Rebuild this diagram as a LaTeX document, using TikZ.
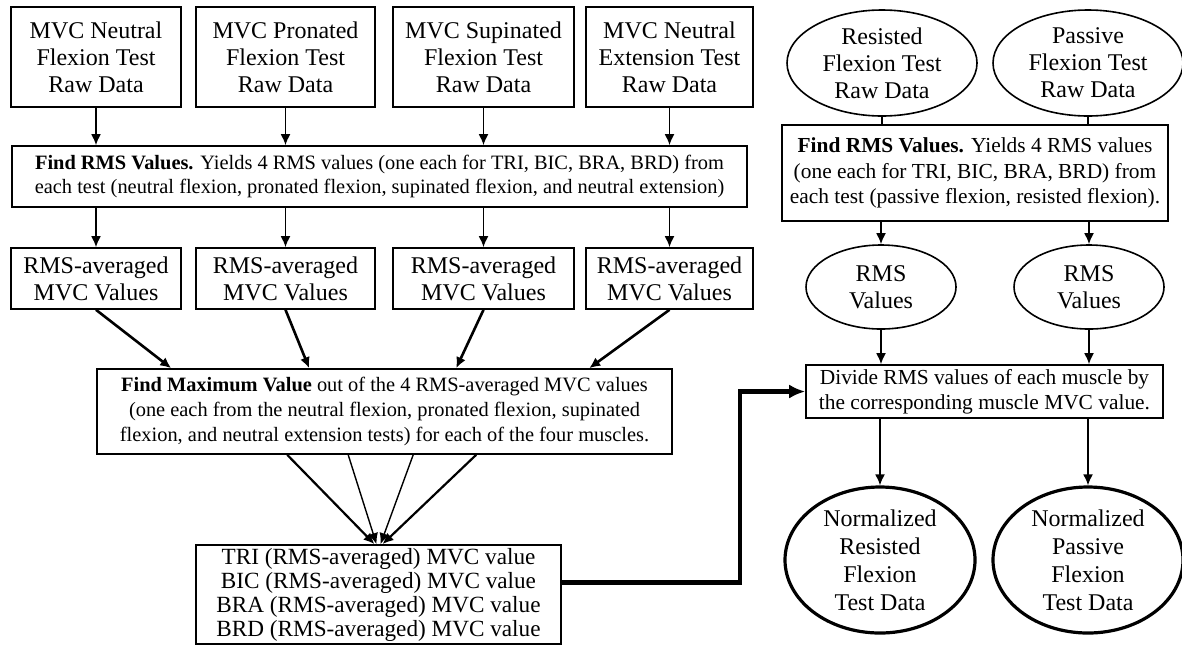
\documentclass[tikz,border=0pt]{standalone}
\usepackage{fontspec}
\setmainfont{Liberation Serif}
\usetikzlibrary{arrows.meta,shapes.geometric}
\def\bigtxt{\fontsize{12}{13.5}\selectfont}
\def\smalltxt{\fontsize{10.2}{12.4}\selectfont}
\def\midtxt{\fontsize{10.7}{12.6}\selectfont}

\begin{document}
\begin{tikzpicture}[x=0.5pt,y=-0.5pt,
					>={Latex[length=5.5pt,width=5pt]},
					rawbox/.style={draw,line width=0.8pt,align=center,font=\bigtxt,minimum height=50pt,inner sep=0pt},
					avgbox/.style={rawbox,minimum height=30.5pt},
					stepbox/.style={draw,line width=0.8pt,align=center,font=\smalltxt,inner sep=1pt},
					oval/.style={draw,ellipse,line width=0.8pt,align=center,font=\bigtxt,inner sep=0pt},
					flow/.style={->,line width=0.9pt}]
				\useasboundingbox (0,0) rectangle (1182,644);
				\node[rawbox,minimum width=85pt] (rawneu) at (96,57) {MVC Neutral\\Flexion Test\\Raw Data};
				\node[rawbox,minimum width=89.5pt] (rawpro) at (285.5,57) {MVC Pronated\\Flexion Test\\Raw Data};
				\node[rawbox,minimum width=90.5pt] (rawsup) at (483.5,57) {MVC Supinated\\Flexion Test\\Raw Data};
				\node[rawbox,minimum width=83.5pt] (rawext) at (669.5,57) {MVC Neutral\\Extension Test\\Raw Data};
				\node[stepbox,minimum width=367.5pt,minimum height=30.5pt] (rmsl) at (379.5,176.5)
					{\textbf{Find RMS Values.} Yields 4 RMS values (one each for TRI, BIC, BRA, BRD) from\\each test (neutral flexion, pronated flexion, supinated flexion, and neutral extension)};
				\node[avgbox,minimum width=85pt] (avgneu) at (96,278.5) {RMS-averaged\\MVC Values};
				\node[avgbox,minimum width=89.5pt] (avgpro) at (285.5,278.5) {RMS-averaged\\MVC Values};
				\node[avgbox,minimum width=90.5pt] (avgsup) at (483.5,278.5) {RMS-averaged\\MVC Values};
				\node[avgbox,minimum width=83.5pt] (avgext) at (669.5,278.5) {RMS-averaged\\MVC Values};
				\node[stepbox,minimum width=287.5pt,minimum height=42.5pt] (maxval) at (384.5,411.5)
					{\textbf{Find Maximum Value} out of the 4 RMS-averaged MVC values\\(one each from the neutral flexion, pronated flexion, supinated\\flexion, and neutral extension tests) for each of the four muscles.};
				\node[rawbox,font={\fontsize{11.6}{12}\selectfont},inner ysep=1.5pt,minimum width=182.5pt,minimum height=49.5pt] (mvcval) at (378.5,594.5)
					{TRI (RMS-averaged) MVC value\\BIC (RMS-averaged) MVC value\\BRA (RMS-averaged) MVC value\\BRD (RMS-averaged) MVC value};
				\node[oval,minimum width=95pt,minimum height=53pt] (resraw) at (882,63) {Resisted\\Flexion Test\\Raw Data};
				\node[oval,minimum width=95pt,minimum height=53pt] (pasraw) at (1088,63) {Passive\\Flexion Test\\Raw Data};
				\node[stepbox,font=\midtxt,minimum width=193pt,minimum height=48pt] (rmsr) at (975,173)
					{\textbf{Find RMS Values.} Yields 4 RMS values\\(one each for TRI, BIC, BRA, BRD) from\\each test (passive flexion, resisted flexion).};
				\node[oval,minimum width=75pt,minimum height=42pt] (rmsres) at (881,287) {RMS\\Values};
				\node[oval,minimum width=75pt,minimum height=42pt] (rmspas) at (1089,287) {RMS\\Values};
				\node[stepbox,font=\midtxt,minimum width=178.5pt,minimum height=26.5pt] (divide) at (984.5,391.5)
					{Divide RMS values of each muscle by\\the corresponding muscle MVC value.};
				\node[oval,font={\fontsize{12}{14}\selectfont},line width=1.6pt,minimum width=95pt,minimum height=73pt] (normres) at (880,560) {Normalized\\Resisted\\Flexion\\Test Data};
				\node[oval,font={\fontsize{12}{14}\selectfont},line width=1.6pt,minimum width=95pt,minimum height=73pt] (normpas) at (1088,560) {Normalized\\Passive\\Flexion\\Test Data};
				\coordinate (bend) at (740,0);
				\draw[flow] (rawneu.south) -- (rawneu.south |- rmsl.north);
				\draw[flow] (rawpro.south) -- (rawpro.south |- rmsl.north);
				\draw[flow] (rawsup.south) -- (rawsup.south |- rmsl.north);
				\draw[flow] (rawext.south) -- (rawext.south |- rmsl.north);
				\draw[flow] (avgneu.north |- rmsl.south) -- (avgneu.north);
				\draw[flow] (avgpro.north |- rmsl.south) -- (avgpro.north);
				\draw[flow] (avgsup.north |- rmsl.south) -- (avgsup.north);
				\draw[flow] (avgext.north |- rmsl.south) -- (avgext.north);
				\draw[flow,line width=1.3pt] (avgneu.south) -- ([xshift=37.5pt]maxval.north west);
				\draw[flow,line width=1.3pt] (avgpro.south) -- ([xshift=106.5pt]maxval.north west);
				\draw[flow,line width=1.3pt] (avgsup.south) -- ([xshift=180pt]maxval.north west);
				\draw[flow,line width=1.3pt] (avgext.south) -- ([xshift=246.5pt]maxval.north west);
				\draw[flow,line width=1.1pt] ([xshift=95.5pt]maxval.south west) -- ([xshift=-2pt]mvcval.north);
				\draw[flow,line width=0.7pt] ([xshift=126pt]maxval.south west) -- ([xshift=-1pt]mvcval.north);
				\draw[flow,line width=0.7pt] ([xshift=158.5pt]maxval.south west) -- ([xshift=1pt]mvcval.north);
				\draw[flow,line width=1.1pt] ([xshift=190pt]maxval.south west) -- ([xshift=2pt]mvcval.north);
				\draw[->,>={Latex[length=8pt,width=7pt]},line width=2.2pt] ([yshift=6pt]mvcval.east) -| (bend |- divide.west) -- (divide.west);
				\draw[line width=0.9pt] (resraw.south) -- (resraw.south |- rmsr.north);
				\draw[line width=0.9pt] (pasraw.south) -- (pasraw.south |- rmsr.north);
				\draw[flow] (rmsres.north |- rmsr.south) -- (rmsres.north);
				\draw[flow] (rmspas.north |- rmsr.south) -- (rmspas.north);
				\draw[flow] (rmsres.south) -- (rmsres.south |- divide.north);
				\draw[flow] (rmspas.south) -- (rmspas.south |- divide.north);
				\draw[flow] (normres.north |- divide.south) -- (normres.north);
				\draw[flow] (normpas.north |- divide.south) -- (normpas.north);
\end{tikzpicture}
\end{document}
